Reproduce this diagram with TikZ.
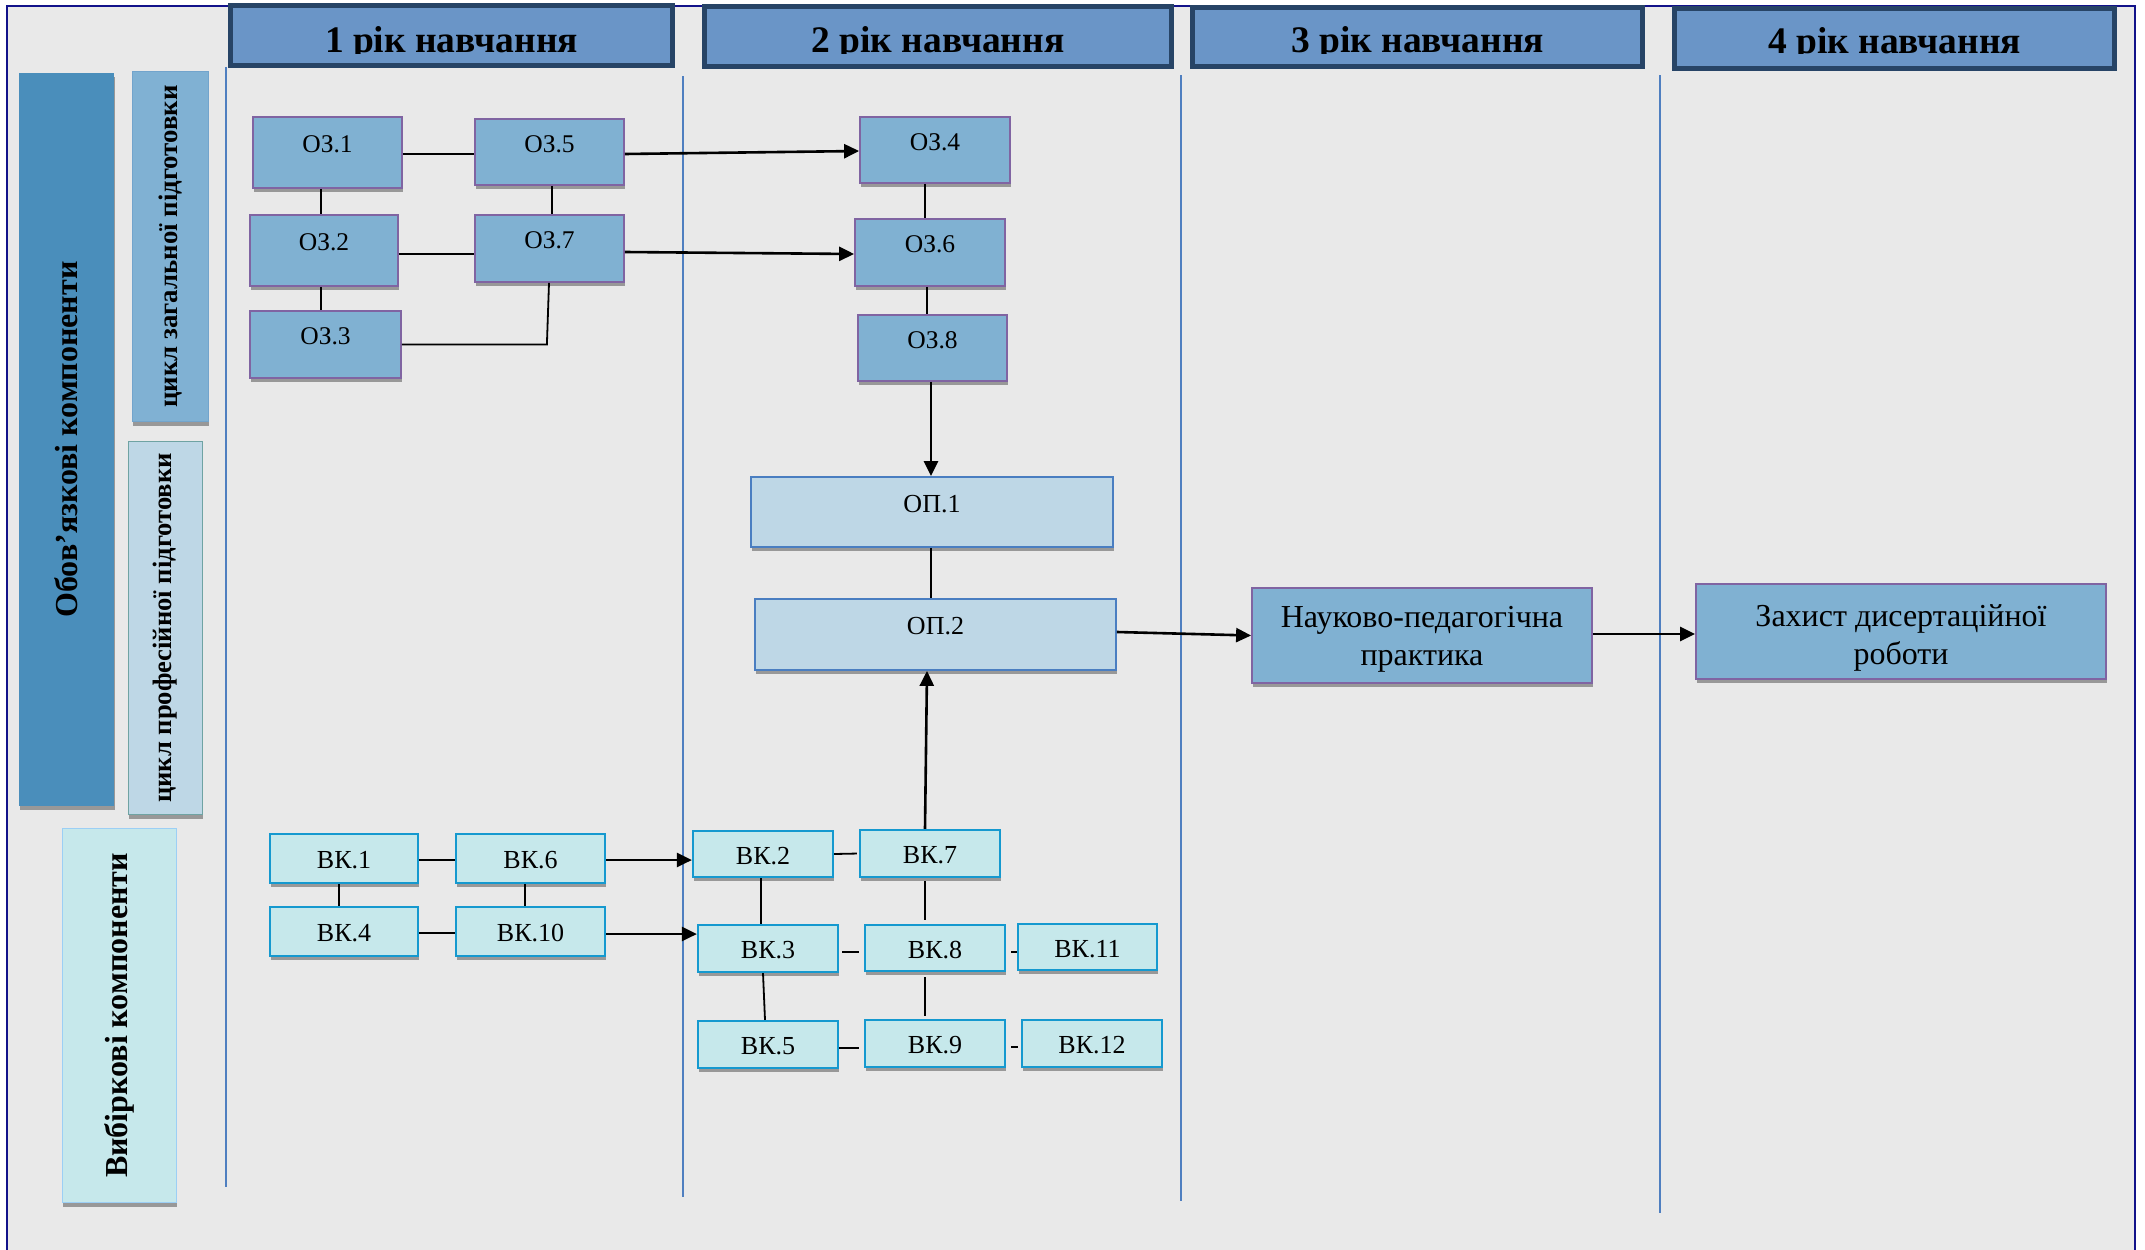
\documentclass[tikz,border=0pt]{standalone}
\usepackage{fontspec}
\setmainfont{Liberation Serif}
\usetikzlibrary{arrows.meta,shadows}
\definecolor{bggray}{HTML}{E9E9E9}
\definecolor{framenavy}{HTML}{12128A}
\definecolor{hdrfill}{HTML}{6A95C7}
\definecolor{hdrline}{HTML}{274466}
\definecolor{oblfill}{HTML}{4A8EBB}
\definecolor{zagfill}{HTML}{80B1D3}
\definecolor{zagline}{HTML}{72A4CC}
\definecolor{proffill}{HTML}{BED7E6}
\definecolor{profline}{HTML}{6FA3A3}
\definecolor{vybfill}{HTML}{C6E8EB}
\definecolor{vybline}{HTML}{9CCFF5}
\definecolor{ozfill}{HTML}{80B1D2}
\definecolor{ozline}{HTML}{8064A2}
\definecolor{opfill}{HTML}{BED7E6}
\definecolor{opline}{HTML}{4A7EC1}
\definecolor{vkfill}{HTML}{C6E8EB}
\definecolor{vkline}{HTML}{1599CF}
\definecolor{divline}{HTML}{4F7FC0}
\definecolor{shadowgray}{HTML}{989898}
\begin{document}
\begin{tikzpicture}[x=1pt,y=-1pt,
  shadebox/.style={drop shadow={shadow xshift=0.5pt,shadow yshift=-4pt,fill=shadowgray,opacity=1}},
  hdr/.style={draw=hdrline,line width=5pt,fill=hdrfill,inner sep=0pt},
  hdrtext/.style={font=\fontsize{37.5}{42}\selectfont\bfseries,anchor=base,inner sep=0pt},
  sidelbl/.style={inner sep=0pt,shadebox,align=center},
  ozbox/.style={draw=ozline,line width=1.8pt,fill=ozfill,shadebox,inner sep=0pt,
     font=\fontsize{25.5}{30}\selectfont,text height=17pt,text depth=17pt},
  opbox/.style={draw=opline,line width=1.8pt,fill=opfill,shadebox,inner sep=0pt,
     font=\fontsize{26}{30}\selectfont,text height=17pt,text depth=17pt},
  bigbox/.style={draw=ozline,line width=1.8pt,fill=ozfill,shadebox,inner sep=0pt,
     font=\fontsize{32}{38}\selectfont,align=center},
  vkbox/.style={draw=vkline,line width=2.2pt,fill=vkfill,shadebox,inner sep=0pt,
     font=\fontsize{26}{30}\selectfont,text height=20pt,text depth=0pt},
  conn/.style={line width=1.8pt,draw=black},
  arr/.style={line width=2.6pt,draw=black,-{Triangle[length=15pt,width=14pt]}},
  divider/.style={line width=1.8pt,draw=divline}
]
\useasboundingbox (0,0) rectangle (2145,1250);
\fill[white] (0,0) rectangle (2145,1250);
\fill[bggray] (7,6) rectangle (2135,1250);
\draw[framenavy,line width=2pt] (7,1250) -- (7,6) -- (2135,6) -- (2135,1250);

% column dividers
\draw[divider] (226,67) -- (226,1187);
\draw[divider] (683,76) -- (683,1197);
\draw[divider] (1181,75) -- (1181,1201);
\draw[divider] (1660,75) -- (1660,1213);

% headers
\node[hdr,minimum width=442,minimum height=60] (h1) at (451.5,35.5) {};
\node[hdr,minimum width=467,minimum height=60] (h2) at (938,36.5) {};
\node[hdr,minimum width=450,minimum height=59] (h3) at (1417.5,37) {};
\node[hdr,minimum width=440,minimum height=60] (h4) at (1894.5,38.5) {};
\begin{scope}
\clip (0,0) rectangle (2145,53.5);
\node[hdrtext] (h1t) at (451.5,52) {1 рік навчання};
\node[hdrtext] (h2t) at (938,52) {2 рік навчання};
\node[hdrtext] (h3t) at (1417.5,52.5) {3 рік навчання};
\node[hdrtext] (h4t) at (1894.5,53) {4 рік навчання};
\end{scope}

% side labels
\node[sidelbl,fill=oblfill,minimum width=95,minimum height=733,
  font=\fontsize{32}{36}\selectfont\bfseries] (obl) at (66.5,439.5)
  {\rotatebox{90}{Обов'язкові компоненти}};
\node[sidelbl,fill=zagfill,draw=zagline,line width=1.2pt,minimum width=76,minimum height=350,
  font=\fontsize{26.8}{30}\selectfont\bfseries] (zag) at (170.5,246.5)
  {\rotatebox{90}{цикл загальної підготовки}};
\node[sidelbl,fill=proffill,draw=profline,line width=1.5pt,minimum width=74,minimum height=373,
  font=\fontsize{26.6}{30}\selectfont\bfseries] (prof) at (165.5,628)
  {\rotatebox{90}{цикл професійної підготовки}};
\node[sidelbl,fill=vybfill,draw=vybline,line width=1.5pt,minimum width=114,minimum height=374,
  font=\fontsize{32}{36}\selectfont\bfseries] (vyb) at (119.5,1015.5)
  {\rotatebox{90}{Вибіркові компоненти}};

% OZ boxes
\node[ozbox,minimum width=149,minimum height=71] (oz1) at (327.5,152.5) {ОЗ.1};
\node[ozbox,minimum width=149,minimum height=66] (oz5) at (549.5,152) {ОЗ.5};
\node[ozbox,minimum width=148,minimum height=71] (oz2) at (324,250.5) {ОЗ.2};
\node[ozbox,minimum width=149,minimum height=67] (oz7) at (549.5,248.5) {ОЗ.7};
\node[ozbox,minimum width=151,minimum height=67] (oz3) at (325.5,344.5) {ОЗ.3};
\node[ozbox,minimum width=150,minimum height=66] (oz4) at (935,150) {ОЗ.4};
\node[ozbox,minimum width=150,minimum height=67] (oz6) at (930,252.5) {ОЗ.6};
\node[ozbox,minimum width=149,minimum height=66] (oz8) at (932.5,348) {ОЗ.8};

% OP boxes
\node[opbox,minimum width=362,minimum height=70] (op1) at (932,512) {ОП.1};
\node[opbox,minimum width=361,minimum height=71] (op2) at (935.5,634.5) {ОП.2};

% final boxes
\node[bigbox,minimum width=340,minimum height=95] (nauk) at (1422,635.5) {\rule{0pt}{29pt}Науково-педагогічна\\практика};
\node[bigbox,minimum width=410,minimum height=95] (zakh) at (1901,631.5) {\rule{0pt}{35pt}Захист дисертаційної\\роботи};

% VK boxes
\node[vkbox,minimum width=148,minimum height=49] (vk1) at (344,858.5) {ВК.1};
\node[vkbox,minimum width=149,minimum height=49] (vk6) at (530.5,858.5) {ВК.6};
\node[vkbox,minimum width=148,minimum height=49] (vk4) at (344,931.5) {ВК.4};
\node[vkbox,minimum width=149,minimum height=49] (vk10) at (530.5,931.5) {ВК.10};
\node[vkbox,minimum width=140,minimum height=46] (vk2) at (763,854) {ВК.2};
\node[vkbox,minimum width=140,minimum height=47] (vk7) at (930,853.5) {ВК.7};
\node[vkbox,minimum width=140,minimum height=47] (vk3) at (768,948.5) {ВК.3};
\node[vkbox,minimum width=140,minimum height=46] (vk8) at (935,948) {ВК.8};
\node[vkbox,minimum width=139,minimum height=46] (vk11) at (1087.5,947) {ВК.11};
\node[vkbox,minimum width=140,minimum height=47] (vk5) at (768,1044.5) {ВК.5};
\node[vkbox,minimum width=140,minimum height=47] (vk9) at (935,1043.5) {ВК.9};
\node[vkbox,minimum width=140,minimum height=47] (vk12) at (1092,1043.5) {ВК.12};

% OZ connectors
\draw[conn] ([yshift=-1.5pt]oz1.east) -- ([yshift=-2pt]oz5.west);
\draw[conn] ([xshift=-6.5pt]oz1.south) -- ([xshift=-3pt]oz2.north);
\draw[conn] ([xshift=-3pt]oz2.south) -- ([xshift=-4.5pt]oz3.north);
\draw[conn] ([xshift=2.5pt]oz5.south) -- ([xshift=2.5pt]oz7.north);
\draw[conn] ([yshift=-3.5pt]oz2.east) -- ([yshift=-5.5pt]oz7.west);
\draw[conn] (oz3.east) -- ++(145,0) -- ([xshift=-0.5pt]oz7.south);
\draw[arr] ([yshift=-2pt]oz5.east) -- ([yshift=-1pt]oz4.west);
\draw[arr] ([yshift=-3.5pt]oz7.east) -- ([yshift=-1.5pt]oz6.west);
\draw[conn] ([xshift=-10pt]oz4.south) -- ([xshift=-5pt]oz6.north);
\draw[conn] ([xshift=-3pt]oz6.south) -- ([xshift=-5.5pt]oz8.north);
\draw[arr] ([xshift=-1.5pt]oz8.south) -- ([xshift=-1pt]op1.north);
\draw[conn] ([xshift=-1pt]op1.south) -- ([xshift=-4.5pt]op2.north);
\draw[arr] ([yshift=2.5pt]op2.east) -- (nauk.west);
\draw[arr] ([yshift=1.5pt]nauk.east) -- ([yshift=-2.5pt]zakh.west);

% VK connectors
\draw[conn] ([yshift=-1.5pt]vk1.east) -- ([yshift=-1.5pt]vk6.west);
\draw[conn] ([xshift=-5pt]vk1.south) -- ([xshift=-5pt]vk4.north);
\draw[conn] ([xshift=-5.5pt]vk6.south) -- ([xshift=-5.5pt]vk10.north);
\draw[conn] ([yshift=-1.5pt]vk4.east) -- ([yshift=-1.5pt]vk10.west);
\draw[arr] ([yshift=-1.5pt]vk6.east) -- ([yshift=-6pt]vk2.west);
\draw[arr] ([yshift=-2.5pt]vk10.east) -- ([yshift=14.5pt]vk3.west);
\draw[arr] ([xshift=-5pt]vk7.north) -- ([xshift=-8.5pt]op2.south);
\draw[conn,shorten >=2pt] (vk2.east) -- (vk7.west);
\draw[conn] ([xshift=-2pt]vk2.south) -- ([xshift=-7pt]vk3.north);
\draw[conn,shorten <=3pt,shorten >=4pt] ([xshift=-5pt]vk7.south) -- ([xshift=-10pt]vk8.north);
\draw[conn,shorten <=3pt,shorten >=5pt] ([yshift=-3.5pt]vk3.east) -- ([yshift=-4pt]vk8.west);
\draw[conn,shorten <=5pt] ([yshift=-4pt]vk8.east) -- ([yshift=-5pt]vk11.west);
\draw[conn] ([xshift=-5pt]vk3.south) -- ([xshift=-3pt]vk5.north);
\draw[conn,shorten <=5pt,shorten >=3pt] ([xshift=-10pt]vk8.south) -- ([xshift=-10pt]vk9.north);
\draw[conn,shorten >=5pt] ([yshift=-3.5pt]vk5.east) -- ([yshift=-4.5pt]vk9.west);
\draw[conn,shorten <=5pt,shorten >=3pt] ([yshift=-3.5pt]vk9.east) -- ([yshift=-3.5pt]vk12.west);
\end{tikzpicture}
\end{document}
